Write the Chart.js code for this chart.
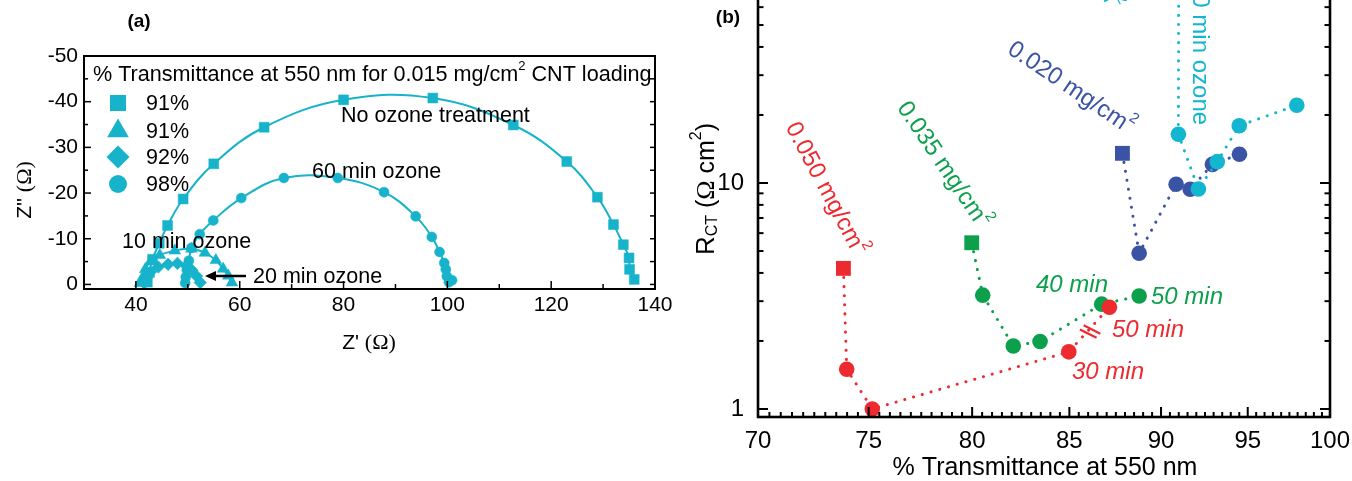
<!DOCTYPE html>
<html><head><meta charset="utf-8">
<script src="https://cdn.jsdelivr.net/npm/chart.js@4.4.1/dist/chart.umd.min.js"></script>
<style>
html,body{margin:0;padding:0;background:#fff;overflow:hidden;width:1352px;height:481px;position:relative}
#wa{position:absolute;left:0;top:0;width:680px;height:360px}
#wb{position:absolute;left:680px;top:-60px;width:672px;height:541px}
canvas{display:block}
</style></head><body>
<div id="wa"><canvas id="ca" width="680" height="360"></canvas></div>
<div id="wb"><canvas id="cb" width="672" height="541"></canvas></div>
<script>
// ---------------- Panel (a): Nyquist plots, 0.015 mg/cm2 CNT loading ----------------
const aNoOzoneRe = [42.2, 42.6, 43.2, 44.5, 46.1, 49.1, 55.0, 64.7, 80.0, 97.2, 112.7, 123.0, 128.9, 132.0, 133.9, 135.0, 135.1, 136.0];
const aNoOzoneIm = [-0.5, -2.6, -5.5, -9.0, -12.9, -18.7, -26.4, -34.4, -40.4, -40.8, -34.9, -26.9, -19.1, -13.1, -8.7, -5.8, -3.3, -1.1];
const a10minRe = [40.8, 41.2, 41.8, 42.8, 44.6, 47.5, 50.7, 53.3, 55.4, 56.8, 57.8, 58.5];
const a10minIm = [-0.3, -1.3, -3.3, -5.0, -6.4, -7.4, -7.8, -6.9, -5.3, -3.4, -1.9, -0.4];
const a20minRe = [41.6, 42.0, 42.8, 44.3, 46.2, 48.0, 49.7, 50.8, 51.7, 52.4];
const a20minIm = [-0.3, -1.4, -2.7, -3.8, -4.4, -4.6, -4.1, -3.1, -1.8, -0.4];
const a60minRe = [49.5, 49.6, 49.8, 50.2, 50.7, 52.3, 54.9, 60.3, 68.5, 78.9, 87.8, 93.9, 97.0, 98.5, 99.4, 99.7, 99.9, 100.9, 100.3];
const a60minIm = [-0.3, -1.6, -3.2, -5.2, -8.0, -11.0, -14.0, -18.9, -23.3, -23.3, -20.2, -14.9, -10.4, -7.1, -4.7, -3.3, -1.8, -0.9, -0.5];
const aLegendLabels = ['91%', '91%', '92%', '98%'];
const aCurveLabels = ['No ozone treatment', '10 min ozone', '20 min ozone', '60 min ozone'];
const aXTickValues = [30, 40, 50, 60, 70, 80, 90, 100, 110, 120, 130, 140];
const aXLabelValues = [40, 60, 80, 100, 120, 140];
const aYTickValues = [-50, -45, -40, -35, -30, -25, -20, -15, -10, -5, 0];
const aYLabelValues = [-50, -40, -30, -20, -10, 0];

// ---------------- Panel (b): R_CT vs % transmittance ----------------
const bRed050T = [73.83, 73.98, 75.17, 84.97, 87.15];
const bRed050R = [4.19, 1.50, 1.00, 1.79, 2.82];
const bGreen035T = [79.98, 80.53, 82.08, 83.46, 86.73, 88.78];
const bGreen035R = [5.44, 3.19, 1.90, 1.99, 2.91, 3.16];
const bBlue020T = [87.86, 88.78, 90.85, 91.65, 92.93, 94.51];
const bBlue020R = [13.53, 4.89, 9.87, 9.38, 12.09, 13.40];
const bCyan015T = [91.0, 90.98, 92.12, 93.21, 94.50, 97.95];
const bCyan015R = [80, 16.42, 9.41, 12.43, 17.93, 22.07];
const bXLabelValues = [70, 75, 80, 85, 90, 95, 100];
const bYLabelValues = [1, 10, 100];
const bYMinorValues = [2, 3, 4, 5, 6, 7, 8, 9, 20, 30, 40, 50, 60, 70, 80, 90];

const SANS = "'Liberation Sans', Arial, sans-serif";
const SERIF = "'Liberation Serif', 'Times New Roman', serif";
const F = (size, style) => (style ? style + ' ' : '') + size + 'px ' + SANS;
const FS = (size) => size + 'px ' + SERIF;
Chart.defaults.font.family = SANS;
Chart.defaults.color = '#000';

const CYAN_A = '#17B3CB';
const RED = '#EC2A30', GREEN = '#0DA04C', BLUE = '#3A53A4', CYAN = '#12B6CE';

const toXY = (xs, ys) => xs.map((x, i) => ({x: x, y: ys[i]}));
const noPad = s => { s.paddingLeft = 0; s.paddingRight = 0; s.paddingTop = 0; s.paddingBottom = 0; };

function drawRich(ctx, parts, x, y, align, color) {
  let w = 0;
  for (const p of parts) { ctx.font = p.font; w += ctx.measureText(p.t).width; }
  let cx = align === 'center' ? x - w / 2 : (align === 'right' ? x - w : x);
  ctx.textBaseline = 'middle'; ctx.textAlign = 'left';
  for (const p of parts) {
    ctx.font = p.font; ctx.fillStyle = p.color || color;
    ctx.fillText(p.t, cx, y + (p.dy || 0));
    cx += ctx.measureText(p.t).width;
  }
}
function line(ctx, x1, y1, x2, y2) { ctx.beginPath(); ctx.moveTo(x1, y1); ctx.lineTo(x2, y2); ctx.stroke(); }
function marker(ctx, style, x, y, r) {
  ctx.beginPath();
  if (style === 'rect') { const s = r * Math.SQRT1_2; ctx.rect(x - s, y - s, 2 * s, 2 * s); }
  else if (style === 'triangle') {
    ctx.moveTo(x, y - r); ctx.lineTo(x + r * Math.sin(2 * Math.PI / 3), y - r * Math.cos(2 * Math.PI / 3));
    ctx.lineTo(x + r * Math.sin(4 * Math.PI / 3), y - r * Math.cos(4 * Math.PI / 3)); ctx.closePath();
  } else if (style === 'rectRot') { ctx.moveTo(x, y - r); ctx.lineTo(x + r, y); ctx.lineTo(x, y + r); ctx.lineTo(x - r, y); ctx.closePath(); }
  else { ctx.arc(x, y, r, 0, Math.PI * 2); }
  ctx.fill();
}
// make the plot frame land exactly where the reference has it
function fitArea(chart, target) {
  for (let k = 0; k < 4; k++) {
    const a = chart.chartArea, p = chart.options.layout.padding;
    const dl = target.left - a.left, dr = a.right - target.right, dt = target.top - a.top, db = a.bottom - target.bottom;
    if (Math.abs(dl) + Math.abs(dr) + Math.abs(dt) + Math.abs(db) < 0.3) break;
    p.left += dl; p.right += dr; p.top += dt; p.bottom += db;
    chart.update();
  }
}

// ---------- Panel (a) ----------
const panelAPlugin = {
  id: 'panelA',
  afterDraw(chart) {
    const {ctx, chartArea: a, scales: {x, y}} = chart;
    ctx.save();
    ctx.strokeStyle = '#000'; ctx.lineWidth = 1.5;
    for (const v of aXTickValues) {
      const px = x.getPixelForValue(v);
      const len = aXLabelValues.includes(v) ? 8 : 5;
      line(ctx, px, a.bottom, px, a.bottom - len);
    }
    for (const v of aYTickValues) {
      const py = y.getPixelForValue(v);
      const len = aYLabelValues.includes(v) ? 7 : 4;
      line(ctx, a.left, py, a.left + len, py);
      line(ctx, a.right, py, a.right - 5, py);
    }
    ctx.lineWidth = 2;
    ctx.strokeRect(a.left, a.top, a.right - a.left, a.bottom - a.top);

    // panel tag
    ctx.font = F(19, 'bold'); ctx.fillStyle = '#000'; ctx.textAlign = 'center'; ctx.textBaseline = 'middle';
    ctx.fillText('(a)', 139, 22);

    // legend
    drawRich(ctx, [
      {t: '% Transmittance at 550 nm for 0.015 mg/cm', font: F(21.6)},
      {t: '2', font: F(13), dy: -9},
      {t: ' CNT loading', font: F(21.6)}
    ], 93, 75, 'left', '#000');
    const styles = ['rect', 'triangle', 'rectRot', 'circle'];
    const radii = [11.3, 12.5, 11.5, 9];
    const ys = [103, 131, 157, 184];
    ctx.fillStyle = CYAN_A;
    styles.forEach((s, i) => marker(ctx, s, 118, ys[i], radii[i]));
    ctx.font = F(21.5); ctx.fillStyle = '#000'; ctx.textAlign = 'left'; ctx.textBaseline = 'middle';
    aLegendLabels.forEach((t, i) => ctx.fillText(t, 146, ys[i] + 1));

    // curve annotations
    ctx.font = F(21.5);
    ctx.fillText(aCurveLabels[0], 341, 116);
    ctx.fillText(aCurveLabels[3], 312, 172);
    ctx.fillText(aCurveLabels[1], 122, 242);
    ctx.fillText(aCurveLabels[2], 253, 277);
    // arrow
    ctx.strokeStyle = '#000'; ctx.lineWidth = 2.5;
    line(ctx, 246, 276, 214, 276);
    ctx.beginPath(); ctx.moveTo(205, 276); ctx.lineTo(216, 271); ctx.lineTo(216, 281); ctx.closePath(); ctx.fillStyle = '#000'; ctx.fill();

    // axis titles
    drawRich(ctx, [{t: "Z' ", font: F(21)}, {t: '(\u03A9)', font: FS(22)}], 369, 343, 'center', '#000');
    ctx.translate(25, 190); ctx.rotate(-Math.PI / 2);
    drawRich(ctx, [{t: "Z'' ", font: F(21)}, {t: '(\u03A9)', font: FS(22)}], 0, 0, 'center', '#000');
    ctx.restore();
  }
};

function aSet(label, re, im, style, r) {
  return {label: label, data: toXY(re, im), showLine: true, tension: 0.4,
    borderColor: CYAN_A, backgroundColor: CYAN_A, pointBackgroundColor: CYAN_A, pointBorderColor: CYAN_A,
    borderWidth: 2, pointStyle: style, pointRadius: r, pointBorderWidth: 0.5};
}

const chartA = new Chart(document.getElementById('ca'), {
  type: 'scatter',
  data: {datasets: [
    aSet(aCurveLabels[0] + ' (' + aLegendLabels[0] + ')', aNoOzoneRe, aNoOzoneIm, 'rect', 7),
    aSet(aCurveLabels[1] + ' (' + aLegendLabels[1] + ')', a10minRe, a10minIm, 'triangle', 6.8),
    aSet(aCurveLabels[2] + ' (' + aLegendLabels[2] + ')', a20minRe, a20minIm, 'rectRot', 6.3),
    aSet(aCurveLabels[3] + ' (' + aLegendLabels[3] + ')', a60minRe, a60minIm, 'circle', 5)
  ]},
  options: {
    responsive: false, animation: false,
    layout: {padding: {top: 56, right: 25, left: 0, bottom: 0}},
    plugins: {legend: {display: false}, tooltip: {enabled: false}},
    scales: {
      x: {type: 'linear', min: 30, max: 140,
        afterBuildTicks: s => { s.ticks = aXTickValues.map(v => ({value: v})); },
        afterFit: s => { s.height = 71; noPad(s); },
        grid: {display: false, drawTicks: false}, border: {display: false},
        ticks: {autoSkip: false, maxRotation: 0, padding: 4, font: {size: 21}, color: '#000',
          callback: v => aXLabelValues.includes(v) ? String(v) : ''}},
      y: {type: 'linear', min: -50, max: 1, reverse: true,
        afterBuildTicks: s => { s.ticks = aYTickValues.map(v => ({value: v})); },
        afterFit: s => { s.width = 84; noPad(s); },
        grid: {display: false, drawTicks: false}, border: {display: false},
        ticks: {autoSkip: false, padding: 6, font: {size: 21}, color: '#000',
          callback: v => aYLabelValues.includes(v) ? String(v) : ''}}
    }
  },
  plugins: [panelAPlugin]
});
fitArea(chartA, {left: 84, right: 655, top: 56, bottom: 289});

// ---------- Panel (b) ----------
const OX = 680, OY = -60; // canvas offset on the page
const panelBPlugin = {
  id: 'panelB',
  afterDatasetsDraw(chart) {
    const {ctx} = chart;
    ctx.save();
    // break marks on the red dotted segment
    const meta = chart.getDatasetMeta(0);
    const p1 = meta.data[3], p2 = meta.data[4];
    const mx = (p1.x + p2.x) / 2 + 1, my = (p1.y + p2.y) / 2 + 2;
    const ang = Math.atan2(p2.y - p1.y, p2.x - p1.x);
    const ux = Math.cos(ang), uy = Math.sin(ang), nx = -uy, ny = ux;
    ctx.strokeStyle = RED; ctx.lineWidth = 2.2;
    for (const d of [-2.8, 2.8]) {
      const cx = mx + ux * d, cy = my + uy * d;
      line(ctx, cx - nx * 9 - ux * 2.5, cy - ny * 9 - uy * 2.5, cx + nx * 9 + ux * 2.5, cy + ny * 9 + uy * 2.5);
    }
    ctx.restore();
  },
  afterDraw(chart) {
    const {ctx, chartArea: a, scales: {x, y}} = chart;
    ctx.save();
    ctx.strokeStyle = '#000'; ctx.lineWidth = 2;
    // x ticks (every 0.5 %, longer at labelled values)
    for (let k = 0; k <= 60; k++) {
      const v = 70 + k * 0.5;
      const px = x.getPixelForValue(v);
      const len = bXLabelValues.includes(v) ? 10 : 5;
      line(ctx, px, a.bottom, px, a.bottom - len);
    }
    for (const v of bYLabelValues.concat(bYMinorValues)) {
      const py = y.getPixelForValue(v);
      const len = bYLabelValues.includes(v) ? 10 : 5.5;
      line(ctx, a.left, py, a.left + len, py);
      line(ctx, a.right, py, a.right - len, py);
    }
    ctx.lineWidth = 2.6;
    ctx.strokeRect(a.left, a.top, a.right - a.left, a.bottom - a.top);

    const P = (px, py) => [px - OX, py - OY];
    // panel tag
    ctx.font = F(19, 'bold'); ctx.fillStyle = '#000'; ctx.textAlign = 'center'; ctx.textBaseline = 'middle';
    let q = P(728, 18); ctx.fillText('(b)', q[0], q[1]);

    // axis titles
    q = P(1045, 468);
    drawRich(ctx, [{t: '% Transmittance at 550 nm', font: F(25)}], q[0], q[1], 'center', '#000');
    q = P(707, 189);
    ctx.save(); ctx.translate(q[0], q[1]); ctx.rotate(-Math.PI / 2);
    drawRich(ctx, [
      {t: 'R', font: F(26)}, {t: 'CT', font: F(16), dy: 6}, {t: ' (', font: F(25)},
      {t: '\u03A9', font: FS(26)}, {t: ' cm', font: F(25)}, {t: '2', font: F(16), dy: -10}, {t: ')', font: F(25)}
    ], 0, 0, 'center', '#000');
    ctx.restore();

    // rotated loading labels
    const rot = (px, py, deg, parts, color) => {
      const s = P(px, py);
      ctx.save(); ctx.translate(s[0], s[1]); ctx.rotate(deg * Math.PI / 180);
      drawRich(ctx, parts, 0, 0, 'left', color); ctx.restore();
    };
    const load = t => [{t: t + ' mg/cm', font: F(24)}, {t: '2', font: F(15), dy: -10}];
    rot(791, 124, 62, load('0.050'), RED);
    rot(902, 104, 56, load('0.035'), GREEN);
    rot(1010, 47, 34, load('0.020'), BLUE);
    rot(1046, -122, 62, load('0.015'), CYAN);
    rot(1200, -19, 90, [{t: '60 min ozone', font: F(24)}], CYAN);

    // treatment-time labels
    const it = (t, px, py, color) => { const s = P(px, py); drawRich(ctx, [{t: t, font: F(24, 'italic')}], s[0], s[1], 'left', color); };
    it('40 min', 1036, 285, GREEN);
    it('50 min', 1151, 297, GREEN);
    it('50 min', 1112, 330, RED);
    it('30 min', 1072, 372, RED);
    ctx.restore();
  }
};

function bSet(label, xs, ys, color, order) {
  return {label: label, data: toXY(xs, ys), showLine: true, tension: 0, order: order,
    borderColor: color, backgroundColor: color, pointBackgroundColor: color, pointBorderColor: color,
    borderWidth: 3, borderDash: [0.1, 9], borderCapStyle: 'round',
    pointStyle: xs.map((v, i) => i === 0 ? 'rect' : 'circle'),
    pointRadius: xs.map((v, i) => i === 0 ? 10.5 : 7.8), pointBorderWidth: 0};
}

const chartB = new Chart(document.getElementById('cb'), {
  type: 'scatter',
  data: {datasets: [
    bSet('0.050 mg/cm\u00B2', bRed050T, bRed050R, RED, 0),
    bSet('0.035 mg/cm\u00B2', bGreen035T, bGreen035R, GREEN, 1),
    bSet('0.015 mg/cm\u00B2', bCyan015T, bCyan015R, CYAN, 2),
    bSet('0.020 mg/cm\u00B2', bBlue020T, bBlue020R, BLUE, 3)
  ]},
  options: {
    responsive: false, animation: false,
    layout: {padding: {top: 17, right: 22, left: 0, bottom: 0}},
    plugins: {legend: {display: false}, tooltip: {enabled: false}},
    scales: {
      x: {type: 'logarithmic', min: 70, max: 100,
        afterBuildTicks: s => { s.ticks = bXLabelValues.map(v => ({value: v})); },
        afterFit: s => { s.height = 64; noPad(s); },
        grid: {display: false, drawTicks: false}, border: {display: false},
        ticks: {autoSkip: false, maxRotation: 0, padding: 10, font: {size: 24}, color: '#000',
          callback: v => String(v)}},
      y: {type: 'logarithmic', min: 0.9217, max: 100,
        afterBuildTicks: s => { s.ticks = bYLabelValues.map(v => ({value: v})); },
        afterFit: s => { s.width = 78; noPad(s); },
        grid: {display: false, drawTicks: false}, border: {display: false},
        ticks: {autoSkip: false, padding: 14, font: {size: 24}, color: '#000',
          callback: v => String(v)}}
    }
  },
  plugins: [panelBPlugin]
});
fitArea(chartB, {left: 78, right: 650, top: 17, bottom: 477});
</script>
</body></html>
